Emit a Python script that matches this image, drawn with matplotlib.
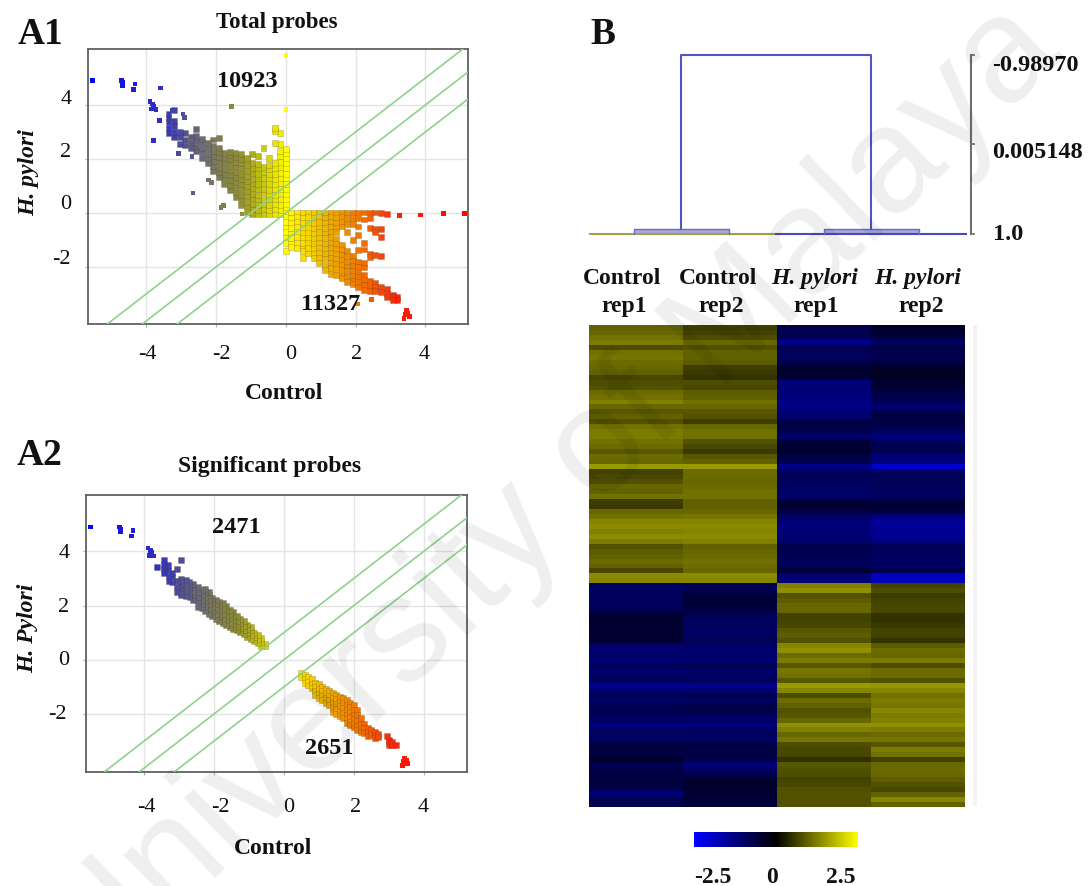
import matplotlib
matplotlib.use("Agg")
import matplotlib.pyplot as plt
from matplotlib.colors import LinearSegmentedColormap
from matplotlib.patches import Rectangle
import numpy as np

W, H = 1088, 887
plt.rcParams['font.family'] = ['Liberation Serif', 'DejaVu Serif']

# Scatter A1 - columns of points, upper left lobe
a1_up_x = [0.0, -0.16, -0.32, -0.48, -0.64, -0.8, -0.96, -1.12, -1.28, -1.44, -1.6, -1.76, -1.92, -2.08, -2.24, -2.4, -2.56, -2.72, -2.88, -3.04, -3.2, -3.36]
a1_up_y = [
    [-0.05, 0.15, 0.32, 0.52, 0.7, 0.9, 1.08, 1.28, 1.46, 1.66, 1.85, 2.05, 2.22, 2.38],
    [-0.05, 0.12, 0.3, 0.5, 0.72, 0.88, 1.1, 1.3, 1.48, 1.7, 1.88, 2.1, 2.3, 2.55, 2.95],
    [-0.05, 0.14, 0.34, 0.5, 0.68, 0.9, 1.06, 1.26, 1.46, 1.68, 1.85, 2.6, 3.05, 3.15],
    [-0.05, 0.1, 0.3, 0.52, 0.7, 0.86, 1.08, 1.3, 1.46, 1.64, 1.78, 2.05],
    [-0.05, 0.16, 0.34, 0.5, 0.72, 0.9, 1.1, 1.28, 1.5, 1.7, 2.4],
    [-0.05, 0.12, 0.3, 0.5, 0.66, 0.88, 1.06, 1.3, 1.46, 1.66, 1.82, 2.12],
    [-0.05, 0.14, 0.32, 0.54, 0.7, 0.92, 1.1, 1.26, 1.48, 1.68, 1.86, 2.2],
    [0.05, 0.24, 0.42, 0.62, 0.8, 1.0, 1.18, 1.38, 1.56, 1.76, 1.95, 2.05],
    [0.3, 0.5, 0.68, 0.88, 1.06, 1.26, 1.44, 1.66, 1.84, 2.0, 2.2],
    [0.58, 0.76, 0.96, 1.14, 1.34, 1.52, 1.72, 1.9, 2.08, 2.22],
    [0.85, 1.04, 1.22, 1.42, 1.6, 1.8, 1.98, 2.16, 2.26],
    [1.08, 1.28, 1.46, 1.64, 1.84, 2.02, 2.22],
    [1.32, 1.5, 1.68, 1.88, 2.06, 2.26, 2.42, 2.78],
    [1.55, 1.74, 1.92, 2.1, 2.3, 2.5, 2.72],
    [1.85, 2.02, 2.2, 2.4, 2.6],
    [2.05, 2.25, 2.42, 2.62, 2.74],
    [2.28, 2.46, 2.66, 2.85, 3.1],
    [2.42, 2.6, 2.8],
    [2.5, 2.7, 2.95],
    [2.55, 2.8, 3.0],
    [2.82, 3.0, 3.22, 3.42, 3.8],
    [2.95, 3.15, 3.36, 3.52, 3.68],
]

# Scatter A1 - lower right lobe
a1_dn_x = [0.0, 0.16, 0.32, 0.48, 0.64, 0.8, 0.96, 1.12, 1.28, 1.44, 1.6, 1.76, 1.92, 2.08, 2.24, 2.4, 2.56, 2.72, 2.9, 3.06, 3.2]
a1_dn_y = [
    [0.02, -0.16, -0.34, -0.54, -0.72, -0.92, -1.1, -1.4],
    [0.02, -0.18, -0.38, -0.56, -0.76, -0.94, -1.14, -1.26],
    [0.02, -0.14, -0.34, -0.52, -0.72, -0.9, -1.1, -1.3],
    [0.02, -0.18, -0.36, -0.56, -0.74, -0.94, -1.12, -1.32, -1.42, -1.66],
    [0.02, -0.16, -0.36, -0.54, -0.74, -0.92, -1.12, -1.3, -1.5],
    [0.02, -0.2, -0.38, -0.58, -0.76, -0.96, -1.14, -1.34, -1.52, -1.66],
    [0.02, -0.16, -0.34, -0.54, -0.72, -0.92, -1.1, -1.3, -1.48, -1.68, -1.85],
    [0.02, -0.18, -0.38, -0.56, -0.76, -0.94, -1.14, -1.32, -1.52, -1.7, -1.95, -2.1],
    [0.02, -0.14, -0.34, -0.52, -0.72, -0.9, -1.1, -1.28, -1.48, -1.66, -1.86, -2.04, -2.25],
    [0.02, -0.18, -0.38, -0.56, -0.7, -0.96, -1.14, -1.32, -1.5, -1.7, -1.88, -2.08, -2.3],
    [0.02, -0.16, -0.34, -0.5, -1.2, -1.38, -1.56, -1.74, -1.94, -2.12, -2.32, -2.42],
    [0.02, -0.2, -0.4, -0.7, -1.42, -1.6, -1.8, -1.98, -2.16, -2.36, -2.55],
    [0.02, -0.18, -0.42, -1.0, -1.6, -1.78, -1.96, -2.14, -2.34, -2.52, -2.62],
    [0.02, -0.2, -0.5, -0.8, -1.38, -1.8, -1.98, -2.18, -2.36, -2.54, -2.75],
    [0.02, -0.24, -1.1, -1.35, -1.85, -2.02, -2.3, -2.48, -2.66, -2.85],
    [0.02, -0.2, -0.55, -1.5, -1.62, -2.5, -2.7, -2.9],
    [0.02, -0.6, -0.7, -1.55, -2.6, -2.75, -2.9],
    [0.0, -0.6, -0.9, -1.58, -2.75, -2.92],
    [-0.04, -2.82, -3.0, -3.12],
    [-3.02, -3.12, -3.22],
    [-3.12, -3.22],
]

# Points far from the bands, the same in A1 and A2
far_blue_x = [-5.54, -4.7, -4.68, -4.68, -4.32, -4.36, -3.89, -3.81, -3.84, -3.72, -3.79]
far_blue_y = [4.9, 4.9, 4.82, 4.72, 4.78, 4.57, 4.12, 4.04, 3.85, 3.83, 3.95]
a1_only_x = [-3.59, -3.79, -3.24, -2.95, -2.9, -3.62, -1.55, -2.66, -1.79, -1.86, -1.26, -3.08, -2.69, -2.22, -2.12, 2.46, 2.06, 0.0, 0.0]
a1_only_y = [4.63, 2.68, 3.81, 3.67, 3.54, 3.42, 3.95, 0.74, 0.27, 0.21, -0.04, 2.21, 2.09, 1.22, 1.14, -3.21, -3.37, 3.84, 5.83]
far_red_x = [3.39, 3.45, 3.54, 3.49, 3.42, 3.5]
far_red_y = [-3.9, -3.62, -3.83, -3.78, -3.75, -3.7]
a1_zero_x = [2.89, 3.26, 3.85, 4.52, 5.11]
a1_zero_y = [-0.04, -0.1, -0.07, -0.01, -0.02]

# Scatter A2 - bands
a2_up_x = [-0.55, -0.65, -0.75, -0.85, -0.95, -1.05, -1.15, -1.25, -1.35, -1.45, -1.55, -1.65, -1.75, -1.85, -1.95, -2.05, -2.15, -2.25, -2.35, -2.45, -2.6, -2.7, -2.8, -2.95, -3.05, -3.2, -3.3, -3.42, -3.62]
a2_up_y = [
    [0.5, 0.6], [0.52, 0.66, 0.8], [0.6, 0.75, 0.9], [0.68, 0.84, 1.0], [0.75, 0.92, 1.08, 1.2],
    [0.85, 1.0, 1.15, 1.3], [0.95, 1.1, 1.25, 1.42], [1.02, 1.18, 1.34, 1.5], [1.1, 1.26, 1.42, 1.6], [1.14, 1.3, 1.46, 1.62, 1.78],
    [1.2, 1.36, 1.54, 1.7, 1.85], [1.28, 1.45, 1.62, 1.8, 1.98], [1.35, 1.52, 1.7, 1.88, 2.1], [1.42, 1.6, 1.8, 1.98, 2.15], [1.52, 1.7, 1.88, 2.06, 2.22],
    [1.6, 1.78, 1.95, 2.12, 2.28], [1.7, 1.88, 2.05, 2.22, 2.4, 2.5], [1.8, 1.98, 2.15, 2.32, 2.5, 2.6], [1.9, 2.05, 2.22, 2.4, 2.56], [1.95, 2.15, 2.32, 2.5, 2.68],
    [2.2, 2.4, 2.6, 2.8], [2.3, 2.5, 2.7, 2.88], [2.35, 2.55, 2.75, 2.95], [2.4, 2.6, 2.8, 3.0, 3.69], [2.5, 2.7, 2.92, 3.35],
    [2.85, 3.05, 3.2], [2.9, 3.1, 3.3, 3.5], [3.2, 3.35, 3.5, 3.68], [3.43],
]
a2_dn_x = [0.5, 0.6, 0.7, 0.8, 0.9, 1.0, 1.1, 1.2, 1.3, 1.4, 1.5, 1.6, 1.7, 1.8, 1.9, 2.0, 2.1, 2.2, 2.3, 2.4, 2.5, 2.6, 2.7, 2.95, 3.0, 3.1, 3.2]
a2_dn_y = [
    [-0.5, -0.62], [-0.55, -0.7, -0.85], [-0.65, -0.8, -0.95], [-0.72, -0.88, -1.05], [-0.85, -1.0, -1.15, -1.3],
    [-0.9, -1.08, -1.25, -1.4], [-1.0, -1.15, -1.32, -1.5], [-1.08, -1.25, -1.42, -1.6], [-1.15, -1.32, -1.5, -1.68], [-1.22, -1.4, -1.58, -1.75, -1.92],
    [-1.28, -1.46, -1.64, -1.82, -2.0], [-1.36, -1.54, -1.72, -1.9, -2.08], [-1.42, -1.6, -1.78, -1.96, -2.15], [-1.5, -1.66, -1.84, -2.02, -2.2, -2.32], [-1.58, -1.75, -1.92, -2.1, -2.28, -2.42],
    [-1.65, -1.85, -2.02, -2.2, -2.38, -2.5], [-1.85, -2.05, -2.25, -2.45, -2.6], [-2.15, -2.35, -2.55, -2.68], [-2.35, -2.52, -2.7], [-2.5, -2.65, -2.8],
    [-2.6, -2.75], [-2.65, -2.8, -2.9], [-2.75, -2.85], [-2.8], [-2.95, -3.05, -3.15], [-3.05, -3.15], [-3.15],
]

# Fold change lines
fold_lines = [-1, 0, 1]

# Heatmap rows: Control rep1, Control rep2, H. pylori rep1, H. pylori rep2
heat_top = [
    [.95, .6, -.75, -.4], [1.0, .65, -.8, -.5], [1.1, .75, -.85, -.6], [1.2, 1.0, -1.4, -.95], [.75, .8, -.8, -.7],
    [1.1, .95, -.9, -.75], [1.15, .95, -.85, -.75], [1.05, .9, -.75, -.7], [1.0, .6, -.45, -.35], [.95, .55, -.45, -.35],
    [.7, .5, -.5, -.35], [.75, .75, -1.2, -.45], [.8, .7, -1.1, -.5], [1.05, .9, -1.2, -.7], [1.1, .95, -1.2, -.8],
    [1.25, 1.1, -1.3, -.85], [1.0, 1.0, -1.3, -1.1], [.85, .85, -1.15, -.75], [.95, .8, -1.1, -.65], [.8, .6, -.7, -.6],
    [1.1, 1.0, -.7, -.8], [1.2, 1.1, -.8, -.9], [1.2, 1.1, -1.0, -1.2], [1.1, .8, -.6, -.9], [1.05, .7, -.5, -.8],
    [.85, .55, -.45, -.8], [1.05, .85, -.65, -1.2], [1.0, .95, -.8, -1.2], [1.5, 1.5, -1.3, -2.0], [.65, 1.05, -.9, -.9],
    [.7, 1.05, -.85, -.85], [.8, 1.0, -.9, -.85], [1.0, 1.05, -.95, -.9], [.95, 1.1, -1.0, -.9], [1.1, 1.1, -1.05, -.95],
    [.6, .95, -.55, -.6], [.55, .95, -.5, -.55], [1.0, 1.0, -.65, -.6], [1.1, 1.15, -1.0, -1.25], [1.3, 1.3, -1.15, -1.5],
    [1.35, 1.35, -1.2, -1.5], [1.25, 1.3, -1.15, -1.4], [1.35, 1.35, -1.15, -1.45], [1.2, 1.25, -1.0, -1.2], [.8, .95, -.75, -.85],
    [.9, 1.0, -.8, -.9], [.95, 1.05, -.85, -.95], [1.05, 1.1, -.9, -1.0], [.95, 1.05, -.85, -.95], [.7, 1.0, -.55, -.8],
    [1.35, 1.35, -1.15, -1.85], [1.3, 1.3, -1.1, -1.85],
]
heat_bottom = [
    [-.95, -.85, 1.25, .65], [-.95, -.8, 1.4, .75], [-.85, -.55, .8, .6], [-.9, -.55, .9, .65], [-.85, -.6, 1.0, .7],
    [-.8, -.65, 1.0, .7], [-.45, -.85, .65, .5], [-.45, -.9, .65, .5], [-.5, -.9, .7, .55], [-.45, -.95, .85, .65],
    [-.45, -.9, .9, .65], [-.5, -.85, .8, .5], [-1.0, -.95, 1.3, .9], [-1.1, -1.1, 1.4, 1.05], [-1.0, -1.0, 1.05, 1.0],
    [-1.15, -1.1, 1.2, 1.2], [-.85, -.75, .85, .75], [-1.05, -1.0, 1.15, 1.05], [-.95, -1.0, 1.1, 1.05], [-.9, -.95, .85, .8],
    [-1.4, -1.4, 1.5, 1.45], [-1.15, -1.15, 1.3, 1.3], [-.75, -.7, .75, 1.1], [-1.0, -.95, 1.05, 1.2], [-.85, -.8, .95, 1.15],
    [-.75, -.7, .8, 1.3], [-.9, -.95, .85, 1.2], [-1.0, -1.05, 1.0, 1.25], [-1.3, -1.3, 1.4, 1.4], [-.95, -.95, 1.25, 1.2],
    [-.9, -.9, 1.0, 1.05], [-1.0, -1.0, 1.15, 1.15], [-.65, -.7, .75, .85], [-.6, -.65, .7, 1.2], [-.65, -.7, .7, 1.1],
    [-.35, -.75, .45, .65], [-.8, -1.15, .85, 1.0], [-.7, -1.0, .8, 1.05], [-.65, -.75, .75, 1.0], [-.6, -.45, .65, .9],
    [-.6, -.45, .7, .8], [-.85, -.5, .8, .7], [-1.15, -.5, .8, .95], [-.75, -.55, .8, 1.3], [-.75, -.55, .8, .95],
]

# Dendrogram
leaf_pos = [0.5, 1.5, 2.5, 3.5]
merge_low = 0.949
merge_top = -0.98970
scale_ticks = [-0.98970, 0.005148, 1.0]
scale_labels = ['-0.98970', '0.005148', '1.0']


def axes_px(left, top, right, bottom):
    return fig.add_axes([left / W, 1 - bottom / H, (right - left) / W, (bottom - top) / H])


def put(px, py, s, size=16, weight='normal', style='normal', rotation=0, color='#111111'):
    # va=center sits a bit high because of the descent, so push it down
    if rotation == 90:
        px = px + 0.17 * size
    else:
        py = py + 0.17 * size
    fig.text(px / W, 1 - py / H, s, ha='center', va='center', fontsize=size,
             fontweight=weight, fontstyle=style, rotation=rotation, color=color)


def flatten(xs, ys):
    out_x = []
    out_y = []
    for x, col in zip(xs, ys):
        for y in col:
            out_x.append(x)
            out_y.append(y)
    return out_x, out_y


# colour follows the Control value
xmin, xmax = -5.6, 5.2
stops = [(-5.6, '#0000ff'), (-3.6, '#3030c0'), (-2.3, '#707070'), (-1.3, '#909030'), (-0.4, '#e0e000'),
         (0.0, '#ffff00'), (1.2, '#ecb000'), (2.2, '#f07000'), (3.0, '#f83010'), (3.4, '#ff1808'), (5.2, '#ff0000')]
cmap_points = LinearSegmentedColormap.from_list('points', [((v - xmin) / (xmax - xmin), c) for v, c in stops])
cmap_heat = LinearSegmentedColormap.from_list('heat', ['#0000ff', '#000000', '#ffff00'])


def scatter_panel(ax, xs, ys, far_x, far_y, xlim, ylim):
    ax.scatter(xs, ys, c=xs, cmap=cmap_points, vmin=xmin, vmax=xmax, marker='s', s=18,
               linewidths=0.4, edgecolors=(0.3, 0.2, 0, 0.35), zorder=3)
    ax.scatter(far_x, far_y, c=far_x, cmap=cmap_points, vmin=xmin, vmax=xmax, marker='s', s=11,
               linewidths=0, zorder=3)
    for d in fold_lines:
        ax.axline((0, d), slope=1, color='#8ed28e', lw=1.2, zorder=4)
    ax.set_xlim(xlim)
    ax.set_ylim(ylim)
    ax.set_xticks([-4, -2, 0, 2, 4])
    ax.set_yticks([-2, 0, 2, 4])
    ax.tick_params(length=2, width=0.8, color='#b0b0b0', labelbottom=False, labelleft=False)
    ax.grid(True, color='#e4e4e4', lw=1)
    ax.set_axisbelow(True)
    for sp in ax.spines.values():
        sp.set_color('#606060')
        sp.set_linewidth(1.3)


fig = plt.figure(figsize=(W / 100, H / 100), dpi=100, facecolor='white')

# A1
x1, y1 = flatten(a1_up_x, a1_up_y)
x2, y2 = flatten(a1_dn_x, a1_dn_y)
ax1 = axes_px(87.5, 49.5, 467.7, 325)
scatter_panel(ax1, x1 + x2, y1 + y2, far_blue_x + a1_only_x + far_red_x + a1_zero_x,
              far_blue_y + a1_only_y + far_red_y + a1_zero_y, (-5.68, 5.21), (-4.11, 6.09))

# A2
x3, y3 = flatten(a2_up_x, a2_up_y)
x4, y4 = flatten(a2_dn_x, a2_dn_y)
ax2 = axes_px(85.7, 496, 466.7, 772.7)
scatter_panel(ax2, x3 + x4, y3 + y4, far_blue_x + far_red_x, far_blue_y + far_red_y,
              (-5.67, 5.23), (-4.13, 6.08))

# Dendrogram, the right spine is the distance scale
dend = axes_px(586, 50, 971, 240)
per_px = (1.0 - merge_top) / 179
dend.set_xlim(0, 385 / 95)
dend.set_ylim(1.0 + 5 * per_px, merge_top - 6 * per_px)
dend.patch.set_visible(False)
for name in ['top', 'left', 'bottom']:
    dend.spines[name].set_visible(False)
dend.spines['right'].set_bounds(merge_top, 1.0)
dend.spines['right'].set_color('#707070')
dend.spines['right'].set_linewidth(1.5)
dend.set_xticks([])
dend.yaxis.tick_right()
dend.set_yticks(scale_ticks)
dend.tick_params(axis='y', length=3, width=1.2, color='#707070', labelright=False)
dend.plot([0.04, 2.0], [1.0, 1.0], color='#a0a048', lw=1.5, clip_on=False)
dend.plot([2.0, 4.0], [1.0, 1.0], color='#4a4ab8', lw=1.5, clip_on=False)
for a, b in [(leaf_pos[0], leaf_pos[1]), (leaf_pos[2], leaf_pos[3])]:
    dend.fill_between([a, b], merge_low, 1.0, color='#a8a8dc', lw=0)
    dend.plot([a, a, b, b], [1.0, merge_low, merge_low, 1.0], color='#6a6ac8', lw=1)
mid_a = (leaf_pos[0] + leaf_pos[1]) / 2
mid_b = (leaf_pos[2] + leaf_pos[3]) / 2
dend.plot([mid_a, mid_a, mid_b, mid_b], [merge_low, merge_top, merge_top, merge_low], color='#5454c4', lw=1.5)

# Heatmap
hm = axes_px(588.7, 326, 964, 807.7)
im = hm.imshow(np.array(heat_top + heat_bottom), cmap=cmap_heat, vmin=-2.5, vmax=2.5, aspect='auto', interpolation='nearest')
hm.axis('off')
fig.add_artist(Rectangle((973 / W, 1 - 807 / H), 4 / W, 481 / H, transform=fig.transFigure, color='#f3f3f3', lw=0))

# Colour bar
cax = axes_px(694.3, 833.3, 858.3, 847.7)
cbar = fig.colorbar(im, cax=cax, orientation='horizontal')
cbar.set_ticks([])
cbar.outline.set_visible(False)

# Texts
put(41, 30, 'A1', 27, 'bold')
put(40, 451, 'A2', 27, 'bold')
put(603, 30, 'B', 27, 'bold')
put(277, 20, 'Total probes', 16.5, 'bold')
put(270, 464, 'Significant probes', 17, 'bold')
put(247, 79, '10923', 17.5, 'bold')
put(331, 302, '11327', 17.5, 'bold')
put(236, 525, '2471', 17.5, 'bold')
put(329, 746, '2651', 17.5, 'bold')
put(284.5, 391, 'Control', 17, 'bold')
put(273, 846, 'Control', 17, 'bold')
put(26, 173, 'H. pylori', 17, 'bold', 'italic', 90)
put(25, 628, 'H. Pylori', 17, 'bold', 'italic', 90)

for px, s in zip([147.7, 221, 290.7, 357, 424], ['-4', '-2', '0', '2', '4']):
    put(px, 352, s)
for px, py, s in zip([66, 66, 66, 61], [97, 150, 202, 257], ['4', '2', '0', '-2']):
    put(px, py, s)
for px, s in zip([146, 220, 289, 356, 423], ['-4', '-2', '0', '2', '4']):
    put(px, 805, s)
for px, py, s in zip([64, 64, 64, 57], [551, 605, 658, 712], ['4', '2', '0', '-2']):
    put(px, py, s)

for px, py, s in zip([1035, 1037, 1008], [63, 150, 232], scale_labels):
    put(px, py, s, 17.5, 'bold')

put(622, 276, 'Control', 17, 'bold')
put(624, 304, 'rep1', 17, 'bold')
put(718, 276, 'Control', 17, 'bold')
put(720.7, 304, 'rep2', 17, 'bold')
put(815, 276, 'H. pylori', 17, 'bold', 'italic')
put(816.7, 304, 'rep1', 17, 'bold')
put(918, 276, 'H. pylori', 17, 'bold', 'italic')
put(920.7, 304, 'rep2', 17, 'bold')

put(713, 875, '-2.5', 17, 'bold')
put(771.7, 875, '0', 17, 'bold')
put(841, 875, '2.5', 17, 'bold')

# Watermark goes over everything, darkens the heatmap a little
fig.text(553 / W, 1 - 498 / H, 'University of Malaya', ha='center', va='center', rotation=44,
         rotation_mode='anchor', fontsize=108, family='Liberation Sans', color='black', alpha=0.065, zorder=20)

fig.savefig('out.png', dpi=100)
